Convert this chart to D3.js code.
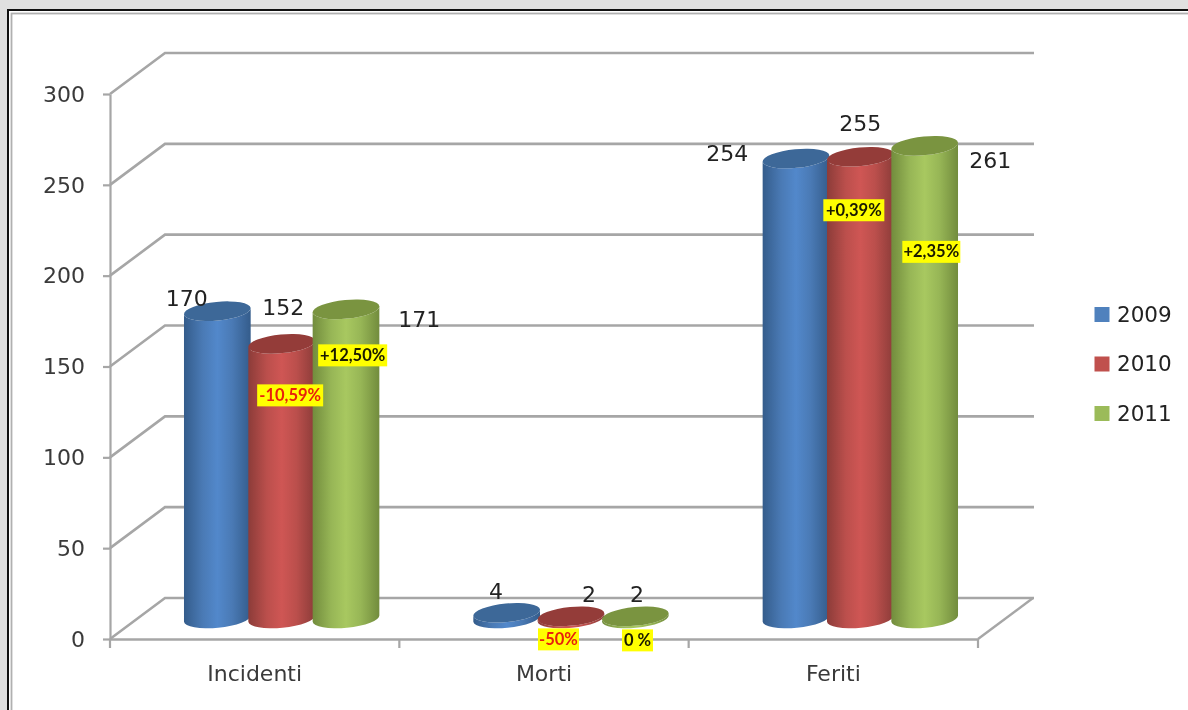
<!DOCTYPE html>
<html><head><meta charset="utf-8">
<script src="https://cdn.jsdelivr.net/npm/d3@7"></script>
<style>
html,body{margin:0;padding:0;background:#e0e0e0;overflow:hidden}
svg{display:block;filter:blur(0.55px)}
text{font-family:"DejaVu Sans",sans-serif}
</style></head><body>
<svg id="c" width="1188" height="710"></svg>
<script>
const categories = ["Incidenti", "Morti", "Feriti"];
const years = ["2009", "2010", "2011"];
const values2009 = [170, 4, 254];
const values2010 = [152, 2, 255];
const values2011 = [171, 2, 261];
const deltas2010 = ["-10,59%", "-50%", "+0,39%"];
const deltas2011 = ["+12,50%", "0 %", "+2,35%"];
const yTicks = [0, 50, 100, 150, 200, 250, 300];

const seriesValues = [values2009, values2010, values2011];
const seriesDeltas = [null, deltas2010, deltas2011];
const palette = [
  {base:"#4a7ab5", edge:"#345c8b", mid:"#5288cb", top:"#3d6898"},
  {base:"#bb4f4c", edge:"#8c3c39", mid:"#cf5654", top:"#943c39"},
  {base:"#97b656", edge:"#728c3d", mid:"#a8c860", top:"#7a9440"}
];
const legendColors = ["#4f81bd", "#c0504d", "#9bbb59"];

const svg = d3.select("#c");
const y = d3.scaleLinear().domain([0, 300]).range([639, 94]);
const x = d3.scaleBand().domain(categories).range([110, 978]);
const depthX = 55, depthY = -41;
const s = d3.scaleBand().domain(years).range([-96.5, 96.5]);
const rx = 33.5, ry = 9.3, tilt = -5.5;
const gridC = "#a6a6a6";

// frame
svg.append("rect").attr("x",8).attr("y",10).attr("width",1190).attr("height",720).attr("fill","#fff").attr("stroke","#111").attr("stroke-width",2);
svg.append("rect").attr("x",11.5).attr("y",13.5).attr("width",1190).attr("height",720).attr("fill","#fff").attr("stroke","#b0b0b0").attr("stroke-width",1.8);

// 3D walls
const wall = svg.append("g").attr("fill","none").attr("stroke",gridC);
yTicks.forEach(t => {
  const yf = y(t), yb = yf + depthY;
  wall.append("path").attr("stroke-width",2.6).attr("d",d3.line()([[110,yf],[110+depthX,yb],[978+depthX+1,yb]]));
});
wall.append("path").attr("stroke-width",2.4).attr("d",d3.line()([[978,y(0)],[978+depthX,y(0)+depthY]]));

// axes
const yAxis = d3.axisLeft(y).tickValues(yTicks).tickSize(7).tickPadding(18).tickSizeOuter(0);
const gy = svg.append("g").attr("transform","translate(110,0)").call(yAxis);
gy.selectAll("path,line").attr("stroke",gridC).attr("stroke-width",2.2);
gy.selectAll("text").attr("fill","#3a3a3a").attr("font-size",22).attr("dy","0.33em").attr("font-family","DejaVu Sans");
const xAxis = d3.axisBottom(x).tickSize(0).tickPadding(26).tickSizeOuter(0);
const gx = svg.append("g").attr("transform",`translate(0,${y(0)})`).call(xAxis);
gx.select("path").attr("stroke",gridC).attr("stroke-width",2.4);
gx.selectAll("text").attr("fill","#3a3a3a").attr("font-size",22).attr("font-family","DejaVu Sans");
const boundaries = categories.map(c => x(c)).concat([x.range()[1]]);
svg.append("g").selectAll("line").data(boundaries).join("line")
  .attr("x1",d=>d).attr("x2",d=>d).attr("y1",y(0)).attr("y2",y(0)+9)
  .attr("stroke",gridC).attr("stroke-width",2.2);

// gradients
const defs = svg.append("defs");
palette.forEach((p,i) => {
  const g = defs.append("linearGradient").attr("id","g"+i).attr("x1","0").attr("x2","1").attr("y1","0").attr("y2","0");
  [[0,p.edge],[0.28,p.base],[0.5,p.mid],[0.72,p.base],[1,p.edge]].forEach(([o,c]) =>
    g.append("stop").attr("offset",o).attr("stop-color",c));
});

// cylinders
const th = tilt*Math.PI/180, ex = rx*Math.cos(th), ey = rx*Math.sin(th);
const baseOffset = depthY/2;
const topDrop = 1.5;
const bars = svg.append("g");
years.forEach((yr,si) => {
  categories.forEach((cat,ci) => {
    const v = seriesValues[si][ci];
    const cx = x(cat) + x.bandwidth()/2 + depthX/2 + s(yr) + s.bandwidth()/2 - 0.5;
    const cyB = y(0) + baseOffset, cyT = y(v) + baseOffset + topDrop;
    const g = bars.append("g");
    g.append("path").attr("fill",`url(#g${si})`).attr("d",
      `M${cx-ex},${cyT-ey} L${cx-ex},${cyB-ey} A${rx},${ry} ${tilt} 0 0 ${cx+ex},${cyB+ey} L${cx+ex},${cyT+ey} A${rx},${ry} ${tilt} 0 1 ${cx-ex},${cyT-ey} Z`);
    g.append("ellipse").attr("cx",cx).attr("cy",cyT).attr("rx",rx).attr("ry",ry)
      .attr("transform",`rotate(${tilt} ${cx} ${cyT})`).attr("fill",palette[si].top);
  });
});

// value labels: offsets from each category's group centre / value height
const labelNudge = [
  [[-95, -12],[ 1.5,-35],[137.5, 11]],
  [[-75,-20],[18,-21],[66,-21]],
  [[-133, -4],[0,-32],[130,16]]
];
const labels = svg.append("g");
years.forEach((yr,si) => {
  categories.forEach((cat,ci) => {
    const v = seriesValues[si][ci];
    const gc = x(cat)+x.bandwidth()/2+depthX/2 - 0.5;
    const n = labelNudge[ci][si];
    labels.append("text").attr("x",gc+n[0]).attr("y",y(v)+baseOffset+n[1]+8)
      .attr("text-anchor","middle").attr("font-size",22).attr("fill","#222").text(v);
  });
});

// delta badges
const badgeNudge = {
  1:[[ 8.5, 53],[-12.5, 24.5],[-6.5, 55]],
  2:[[ 71, 47.5],[ 66.5, 25.5],[ 71, 107.5]]
};
const badgeWidth = {1:[66,41,61],2:[69,31,58]};
[1,2].forEach(si => {
  categories.forEach((cat,ci) => {
    const gc = x(cat)+x.bandwidth()/2+depthX/2 - 0.5;
    const v = seriesValues[si][ci];
    const n = badgeNudge[si][ci], w = badgeWidth[si][ci];
    const bx = gc+n[0], by = y(v)+baseOffset+n[1];
    const isNeg = seriesDeltas[si][ci].startsWith("-");
    const g = labels.append("g");
    g.append("rect").attr("x",bx-w/2).attr("y",by-11).attr("width",w).attr("height",22).attr("fill","#ffff00");
    g.append("text").attr("x",bx).attr("y",by+5.5).attr("text-anchor","middle")
      .attr("font-weight",700).attr("font-size",16.5)
      .attr("fill",isNeg?"#e8200c":"#1a1a00").style("font-family","Lato, sans-serif").text(seriesDeltas[si][ci]);
  });
});

// legend
const lg = svg.append("g");
const ly = d3.scalePoint().domain(years).range([314.5,413.5]);
years.forEach((yr,i) => {
  lg.append("rect").attr("x",1094.5).attr("y",ly(yr)-7.5).attr("width",15).attr("height",15).attr("fill",legendColors[i]);
  lg.append("text").attr("x",1117).attr("y",ly(yr)+7).attr("font-size",21.5).attr("fill","#222").text(yr);
});
</script></body></html>
